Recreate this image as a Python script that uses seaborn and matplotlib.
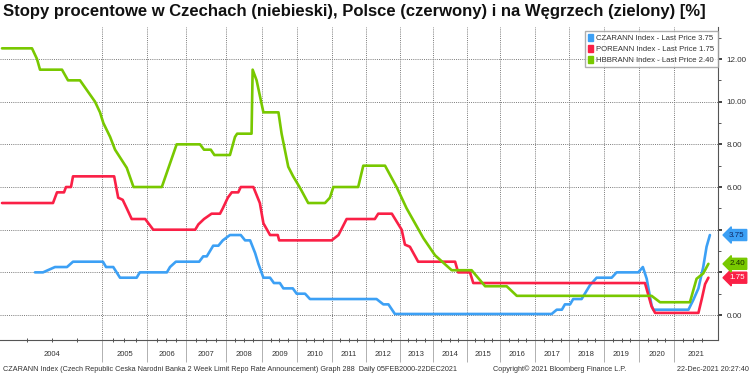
import numpy as np
import pandas as pd
import matplotlib
matplotlib.use("Agg")
import matplotlib.pyplot as plt
from matplotlib.patches import Patch
from matplotlib.ticker import NullFormatter
import seaborn as sns

# policy rates in %, dates as decimal years
cz_dates = [2004.33, 2004.41, 2004.53, 2004.65, 2004.71, 2005.02, 2005.09, 2005.25, 2005.40, 2005.77,
            2005.84, 2006.51, 2006.59, 2006.74, 2007.33, 2007.43, 2007.52, 2007.68, 2007.81, 2007.92,
            2008.11, 2008.41, 2008.53, 2008.67, 2008.81, 2008.90, 2009.04, 2009.23, 2009.34, 2009.51,
            2009.61, 2009.88, 2009.99, 2010.23, 2010.37, 2012.31, 2012.51, 2012.66, 2012.85, 2017.49,
            2017.64, 2017.79, 2017.88, 2018.03, 2018.12, 2018.36, 2018.60, 2018.79, 2019.22, 2019.36,
            2019.98, 2020.11, 2020.22, 2020.36, 2020.41, 2021.39, 2021.52, 2021.66, 2021.79, 2021.88,
            2021.97]
cz_rates = [2.0, 2.0, 2.25, 2.25, 2.5, 2.5, 2.25, 2.25, 1.75, 1.75,
            2.0, 2.0, 2.25, 2.5, 2.5, 2.75, 2.75, 3.25, 3.25, 3.5,
            3.75, 3.75, 3.5, 3.5, 2.9, 2.4, 1.75, 1.75, 1.5, 1.5,
            1.25, 1.25, 1.0, 1.0, 0.75, 0.75, 0.5, 0.5, 0.05, 0.05,
            0.25, 0.25, 0.5, 0.5, 0.75, 0.75, 1.4, 1.75, 1.75, 2.0,
            2.0, 2.25, 1.7, 0.45, 0.25, 0.25, 0.7, 1.25, 2.25, 3.2,
            3.75]

pl_dates = [2004.00, 2004.51, 2004.55, 2004.62, 2004.64, 2004.69, 2004.71, 2005.27, 2005.36, 2005.46,
            2005.55, 2005.66, 2005.96, 2006.16, 2007.23, 2007.31, 2007.45, 2007.64, 2007.85, 2007.92,
            2008.05, 2008.16, 2008.34, 2008.41, 2008.76, 2008.94, 2009.04, 2009.23, 2009.45, 2009.49,
            2010.99, 2011.19, 2011.43, 2012.26, 2012.36, 2012.76, 2013.05, 2013.15, 2013.30, 2013.55,
            2014.65, 2014.74, 2015.09, 2015.19, 2020.17, 2020.36, 2020.46, 2021.66, 2021.75, 2021.84,
            2021.93]
pl_rates = [5.25, 5.25, 5.75, 5.75, 6.0, 6.0, 6.5, 6.5, 5.5, 5.4,
            5.0, 4.5, 4.5, 4.0, 4.0, 4.25, 4.5, 4.75, 4.75, 5.0,
            5.5, 5.75, 5.75, 6.0, 6.0, 5.25, 4.3, 3.75, 3.75, 3.5,
            3.5, 3.75, 4.5, 4.5, 4.75, 4.75, 4.0, 3.3, 3.2, 2.5,
            2.5, 2.0, 2.0, 1.5, 1.5, 0.4, 0.1, 0.1, 0.75, 1.45,
            1.75]

hu_dates = [2004.00, 2004.30, 2004.35, 2004.38, 2004.60, 2004.66, 2004.78, 2004.93, 2004.98, 2005.03,
            2005.18, 2005.29, 2005.55, 2005.70, 2006.38, 2006.76, 2007.35, 2007.45, 2007.62, 2007.71,
            2008.11, 2008.25, 2008.31, 2008.71, 2008.74, 2008.85, 2009.04, 2009.47, 2009.56, 2009.75,
            2009.89, 2010.09, 2010.32, 2010.80, 2010.94, 2011.04, 2011.77, 2011.92, 2012.56, 2012.90,
            2013.20, 2013.71, 2014.06, 2014.55, 2015.14, 2015.55, 2016.19, 2016.48, 2020.36, 2020.60,
            2021.43, 2021.61, 2021.79, 2021.93]
hu_rates = [12.5, 12.5, 12.0, 11.5, 11.5, 11.0, 11.0, 10.0, 9.5, 9.0,
            8.35, 7.75, 6.9, 6.0, 6.0, 8.0, 8.0, 7.75, 7.75, 7.5,
            7.5, 8.35, 8.5, 8.5, 11.5, 11.0, 9.5, 9.5, 8.5, 6.95,
            6.5, 5.95, 5.25, 5.25, 5.5, 6.0, 6.0, 7.0, 7.0, 6.0,
            5.0, 3.6, 2.8, 2.1, 2.1, 1.35, 1.35, 0.9, 0.9, 0.6,
            0.6, 1.7, 1.95, 2.4]

series_names = ["CZARANN Index", "POREANN Index", "HBBRANN Index"]
colors = ["#3ca0f5", "#fa2046", "#78c800"]
tag_text_colors = ["#0f2a66", "#ffffff", "#1c3000"]

years = list(range(2004, 2022))
# Bloomberg squeezes its time axis unevenly: on-screen width of each year
year_widths = [100, 45, 39, 40, 36, 35, 35, 34, 34, 33, 34, 33, 35, 34, 35, 35, 35, 37]

# y labels hidden under the last-price tags in the original
y_ticks = [0, 2, 4, 6, 8, 10, 12]
y_labels = ["0.00", "", "", "6.00", "8.00", "10.00", "12.00"]

title = "Stopy procentowe w Czechach (niebieski), Polsce (czerwony) i na Węgrzech (zielony) [%]"
footer_left = ("CZARANN Index (Czech Republic Ceska Narodni Banka 2 Week Limit Repo Rate Announcement) "
               "Graph 288  Daily 05FEB2000-22DEC2021")
footer_mid = "Copyright\u00a9 2021 Bloomberg Finance L.P."
footer_right = "22-Dec-2021 20:27:40"

frames = []
for name, d, r in zip(series_names, [cz_dates, pl_dates, hu_dates], [cz_rates, pl_rates, hu_rates]):
    frames.append(pd.DataFrame({"date": d, "rate": r, "series": name}))
df = pd.concat(frames, ignore_index=True)

sns.set_theme(style="white")
plt.rcParams["font.family"] = ["Liberation Sans", "DejaVu Sans"]

fig = plt.figure(figsize=(7.5, 3.75), dpi=100)
ax = fig.add_axes([0.0, 1 - 340 / 375, 718 / 750, (340 - 27) / 375])

sns.lineplot(data=df, x="date", y="rate", hue="series", hue_order=series_names,
             palette=colors, linewidth=1.9, estimator=None, sort=False, legend=False, ax=ax)

# piecewise time axis
edge_years = np.array([2003] + years + [2022, 2023], dtype=float)
edge_pos = np.concatenate([[-100], np.cumsum([0] + year_widths), [sum(year_widths) + 37]]).astype(float)


def fwd(x):
    return np.interp(x, edge_years, edge_pos)


def inv(p):
    return np.interp(p, edge_pos, edge_years)


ax.set_xscale("function", functions=(fwd, inv))
x0, x1 = float(inv(-2)), float(inv(716))
ax.set_xlim(x0, x1)
ax.set_ylim(-1.17, 13.5)

ax.set_xticks(years[1:])
ax.xaxis.set_major_formatter(NullFormatter())
ax.set_xticks([y + q for y in years for q in (0.25, 0.5, 0.75)], minor=True)
ax.xaxis.set_minor_formatter(NullFormatter())
ax.tick_params(axis="x", which="major", length=16, width=0.7, color="#b0b0b0", direction="out", bottom=True)
ax.tick_params(axis="x", which="minor", length=3, width=0.7, color="#555555", direction="inout", bottom=True)

for y in years:
    lo = max(y, x0)
    hi = x1 if y == years[-1] else min(y + 1, x1)
    mid = float(inv((fwd(lo) + fwd(hi)) / 2))
    ax.text(mid, -0.035, str(y), transform=ax.get_xaxis_transform(), ha="center", va="top",
            fontsize=5.5, color="#333333")

ax.yaxis.tick_right()
ax.set_yticks(y_ticks)
ax.set_yticklabels(y_labels)
ax.set_yticks(np.arange(1, 14, 2), minor=True)
ax.tick_params(axis="y", which="major", length=3, width=1.2, color="#222222", direction="out",
               labelsize=5.8, labelcolor="#333333", pad=3, right=True)
ax.tick_params(axis="y", which="minor", length=2, width=0.7, color="#555555", direction="out", right=True)

ax.grid(True, which="major", axis="both", color="#7a7a7a", linestyle=(0, (1, 1.2)), linewidth=0.7)
ax.set_xlabel("")
ax.set_ylabel("")
for side in ["left", "top"]:
    ax.spines[side].set_visible(False)
for side in ["bottom", "right"]:
    ax.spines[side].set_color("#555555")
    ax.spines[side].set_linewidth(0.8)

# last price tags on the right axis
last_vals = [cz_rates[-1], pl_rates[-1], hu_rates[-1]]
for val, c, tc in zip(last_vals, colors, tag_text_colors):
    ax.annotate(f"{val:.2f}", xy=(1.0, val), xycoords=("axes fraction", "data"),
                xytext=(8, 0), textcoords="offset points", ha="left", va="center",
                fontsize=5.8, color=tc, annotation_clip=False, zorder=10,
                bbox=dict(boxstyle="larrow,pad=0.25", fc=c, ec=c))

handles = [Patch(facecolor=c, edgecolor=c, label=f"{n} - Last Price {v:.2f}")
           for n, c, v in zip(series_names, colors, last_vals)]
leg = ax.legend(handles=handles, loc="upper right", bbox_to_anchor=(1.005, 1.0), fontsize=5.6,
                frameon=True, fancybox=False, edgecolor="#9a9a9a", handlelength=0.7, handleheight=1.0,
                handletextpad=0.4, borderpad=0.4, labelspacing=0.35)
for t in leg.get_texts():
    t.set_color("#333333")

fig.text(0.004, 0.99, title, ha="left", va="top", fontsize=12, fontweight="bold", color="#111111")
fig.text(0.004, 0.005, footer_left, ha="left", va="bottom", fontsize=5.2, color="#333333")
fig.text(0.657, 0.005, footer_mid, ha="left", va="bottom", fontsize=5.2, color="#333333")
fig.text(0.998, 0.005, footer_right, ha="right", va="bottom", fontsize=5.2, color="#333333")

fig.savefig("out.png", dpi=100, facecolor="white")
